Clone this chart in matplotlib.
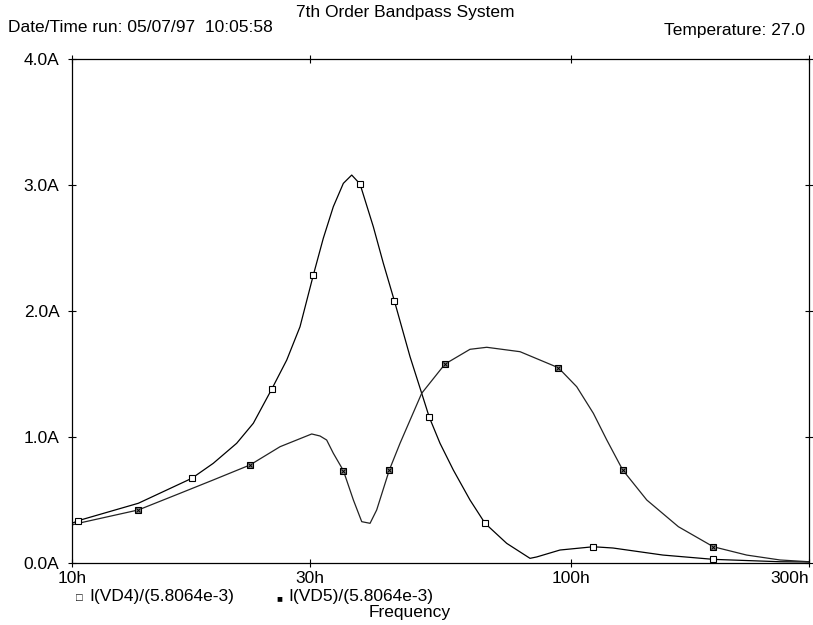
#!/usr/bin/env python3

import matplotlib
matplotlib.use("Agg")
import matplotlib.pyplot as plt
from matplotlib.ticker import FixedLocator, NullLocator

plt.rcParams["font.family"] = ["Liberation Sans", "DejaVu Sans"]

# I(VD4)/(5.8064e-3) trace (frequency in h, current in A)
vd4Freq = [10.0, 10.29, 13.58, 17.38, 19.19, 21.38, 23.09, 25.13, 26.94, 28.64,
           30.46, 31.89, 33.40, 34.98, 36.36, 37.78, 40.17, 42.07, 44.26, 47.59,
           50.22, 52.02, 54.65, 58.11, 62.76, 67.27, 74.34, 82.79, 85.39, 95.07,
           110.9, 121.4, 152.9, 192.9, 262.4, 300.0]
vd4Amp = [0.315, 0.336, 0.474, 0.672, 0.791, 0.950, 1.109, 1.379, 1.611, 1.875,
          2.286, 2.577, 2.828, 3.013, 3.079, 3.008, 2.669, 2.379, 2.082, 1.637,
          1.347, 1.156, 0.950, 0.738, 0.500, 0.315, 0.156, 0.037, 0.048, 0.103,
          0.129, 0.119, 0.063, 0.029, 0.010, 0.008]
vd4MarkFreq = [10.29, 17.38, 25.13, 30.46, 37.78, 44.26, 52.02, 67.27, 110.9, 192.9]
vd4MarkAmp = [0.336, 0.672, 1.379, 2.286, 3.008, 2.082, 1.156, 0.315, 0.129, 0.029]

# I(VD5)/(5.8064e-3) trace
vd5Freq = [10.0, 10.29, 13.58, 16.46, 19.19, 22.74, 26.12, 30.23, 31.41, 32.39,
           33.40, 34.98, 36.64, 38.08, 39.57, 40.80, 43.25, 45.44, 50.22, 55.92,
           62.76, 67.80, 79.07, 94.34, 102.7, 110.9, 118.0, 127.0, 141.9, 164.2,
           192.9, 225.0, 262.4, 300.0]
vd5Amp = [0.302, 0.315, 0.421, 0.553, 0.659, 0.778, 0.923, 1.024, 1.008, 0.976,
          0.871, 0.734, 0.500, 0.328, 0.315, 0.421, 0.738, 0.950, 1.347, 1.579,
          1.696, 1.712, 1.677, 1.550, 1.399, 1.188, 0.976, 0.738, 0.500, 0.288,
          0.129, 0.063, 0.024, 0.010]
vd5MarkFreq = [13.58, 22.74, 34.98, 43.25, 55.92, 94.34, 127.0, 192.9]
vd5MarkAmp = [0.421, 0.778, 0.734, 0.738, 1.579, 1.550, 0.738, 0.129]

xTicks = [10, 30, 100, 300]
xTickLabels = ["10h", "30h", "100h", "300h"]
yTicks = [0.0, 1.0, 2.0, 3.0, 4.0]
yTickLabels = ["0.0A", "1.0A", "2.0A", "3.0A", "4.0A"]


def drawChart(outFile):
	fig = plt.figure(figsize=(8.13, 6.25), dpi=100)
	ax = fig.add_axes([72 / 813, 62 / 625, 737 / 813, 504 / 625])

	ax.plot(vd4Freq, vd4Amp, color="black", lw=0.9, solid_joinstyle="round")
	ax.plot(vd5Freq, vd5Amp, color="#222222", lw=0.9, solid_joinstyle="round")
	ax.plot(vd4MarkFreq, vd4MarkAmp, ls="none", marker="s", ms=4,
		mfc="white", mec="black", mew=0.8)
	ax.plot(vd5MarkFreq, vd5MarkAmp, ls="none", marker="s", ms=4,
		mfc="#888888", mec="black", mew=0.8)
	ax.plot(vd5MarkFreq, vd5MarkAmp, ls="none", marker="x", ms=3,
		mec="black", mew=0.7)

	ax.set_xscale("log")
	ax.set_xlim(10, 300)
	ax.set_ylim(0, 4.0)
	ax.xaxis.set_major_locator(FixedLocator(xTicks))
	ax.xaxis.set_minor_locator(NullLocator())
	ax.set_xticks(xTicks)
	ax.set_xticklabels(xTickLabels)
	ax.set_yticks(yTicks)
	ax.set_yticklabels(yTickLabels)
	ax.get_xticklabels()[-1].set_horizontalalignment("right")
	ax.get_xticklabels()[-1].set_x(300)

	ax.tick_params(axis="both", which="major", direction="inout", length=6,
		width=0.8, labelsize=12.5, top=True, right=True)
	ax.tick_params(axis="x", pad=3)
	ax.tick_params(axis="y", pad=6)
	for spine in ax.spines.values():
		spine.set_linewidth(0.9)

	fig.text(405 / 813, 1 - 13 / 625, "7th Order Bandpass System",
		ha="center", va="center", fontsize=12.5)
	fig.text(8 / 813, 1 - 27 / 625, "Date/Time run: 05/07/97  10:05:58",
		ha="left", va="center", fontsize=12.5)
	fig.text(805 / 813, 1 - 30 / 625, "Temperature: 27.0",
		ha="right", va="center", fontsize=12.5)

	fig.text(76 / 813, 1 - 598 / 625, "\u25a1", ha="left", va="center", fontsize=8)
	fig.text(89 / 813, 1 - 597 / 625, "I(VD4)/(5.8064e-3)",
		ha="left", va="center", fontsize=12.5)
	fig.text(276 / 813, 1 - 598 / 625, "\u25a0", ha="left", va="center", fontsize=7)
	fig.text(288 / 813, 1 - 597 / 625, "I(VD5)/(5.8064e-3)",
		ha="left", va="center", fontsize=12.5)
	fig.text(410 / 813, 1 - 612 / 625, "Frequency",
		ha="center", va="center", fontsize=12.5)

	fig.savefig(outFile, dpi=100)
	plt.close(fig)


if __name__ == "__main__":
	drawChart("out.png")
